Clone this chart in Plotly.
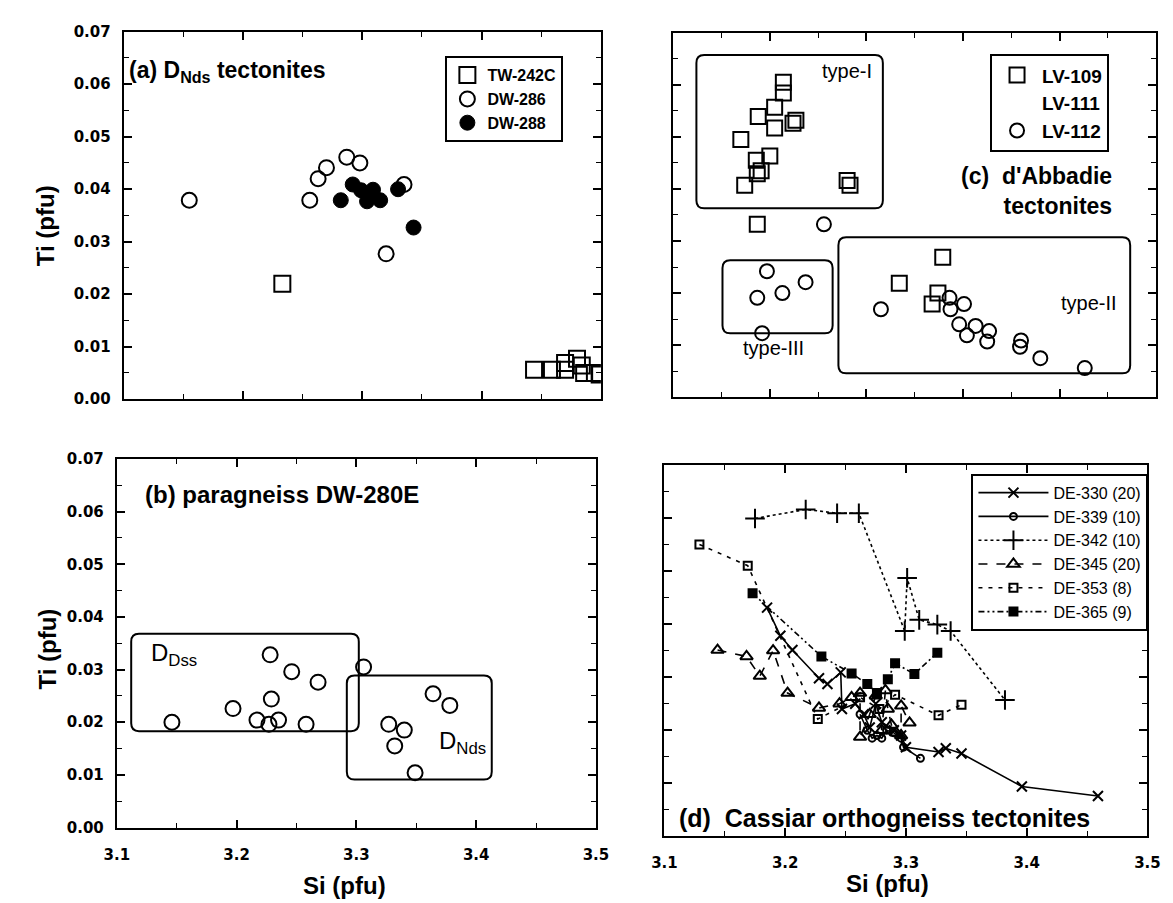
import plotly.graph_objects as go

W, H = 1173, 903

# ---------------- Panel (a): D_Nds tectonites ----------------
a_tw242c_si = [3.233, 3.444, 3.459, 3.470, 3.470, 3.480, 3.484, 3.486, 3.495, 3.499]
a_tw242c_ti = [0.0220, 0.0056, 0.0056, 0.0056, 0.0069, 0.0077, 0.0064, 0.0050, 0.0050, 0.0047]
a_dw286_si = [3.155, 3.256, 3.263, 3.270, 3.287, 3.298, 3.335, 3.320]
a_dw286_ti = [0.0379, 0.0379, 0.0420, 0.0441, 0.0461, 0.0450, 0.0409, 0.0277]
a_dw288_si = [3.282, 3.292, 3.299, 3.305, 3.309, 3.315, 3.304, 3.330, 3.343]
a_dw288_ti = [0.0379, 0.0409, 0.0398, 0.0386, 0.0399, 0.0379, 0.0377, 0.0400, 0.0327]

# ---------------- Panel (b): paragneiss DW-280E ----------------
b_si = [3.146, 3.197, 3.217, 3.227, 3.235, 3.229, 3.228, 3.246, 3.258, 3.268,
        3.306, 3.327, 3.340, 3.332, 3.349, 3.364, 3.378]
b_ti = [0.0200, 0.0226, 0.0204, 0.0196, 0.0204, 0.0244, 0.0328, 0.0296, 0.0196, 0.0276,
        0.0305, 0.0196, 0.0185, 0.0155, 0.0104, 0.0254, 0.0232]
b_box_dss = [3.112, 3.302, 0.0183, 0.0368]
b_box_nds = [3.292, 3.413, 0.0091, 0.0289]

# ---------------- Panel (c): d'Abbadie tectonites ----------------
c_lv109_si = [3.114, 3.114, 3.105, 3.088, 3.127, 3.124, 3.105, 3.070, 3.100, 3.086,
              3.091, 3.087, 3.074, 3.180, 3.183, 3.087, 3.279, 3.234, 3.274, 3.268]
c_lv109_ti = [0.0605, 0.0584, 0.0557, 0.0539, 0.0532, 0.0526, 0.0517, 0.0495, 0.0463, 0.0455,
              0.0435, 0.0429, 0.0407, 0.0416, 0.0407, 0.0332, 0.0269, 0.0219, 0.0200, 0.0179]
c_lv112_si = [3.156, 3.097, 3.137, 3.113, 3.087, 3.092, 3.215, 3.286, 3.301, 3.287,
              3.296, 3.313, 3.327, 3.304, 3.325, 3.360, 3.359, 3.380, 3.426]
c_lv112_ti = [0.0332, 0.0242, 0.0221, 0.0200, 0.0191, 0.0123, 0.0169, 0.0191, 0.0179, 0.0169,
              0.0140, 0.0137, 0.0127, 0.0119, 0.0107, 0.0109, 0.0097, 0.0075, 0.0056]
c_box_type1 = [3.024, 3.217, 0.0363, 0.0657]
c_box_type3 = [3.051, 3.165, 0.0123, 0.0263]
c_box_type2 = [3.171, 3.473, 0.0046, 0.0307]

# ---------------- Panel (d): Cassiar orthogneiss tectonites ----------------
d330_si = [3.185, 3.196, 3.206, 3.228, 3.235, 3.246, 3.247, 3.258, 3.265, 3.270,
           3.275, 3.280, 3.290, 3.296, 3.300, 3.327, 3.333, 3.346, 3.396, 3.459]
d330_ti = [0.0431, 0.0378, 0.0351, 0.0298, 0.0287, 0.0309, 0.0240, 0.0250, 0.0230, 0.0205,
           0.0250, 0.0215, 0.0200, 0.0190, 0.0168, 0.0159, 0.0166, 0.0156, 0.0094, 0.0076]
d339_si = [3.262, 3.268, 3.272, 3.276, 3.280, 3.284, 3.290, 3.296, 3.298, 3.312]
d339_ti = [0.0230, 0.0200, 0.0185, 0.0190, 0.0185, 0.0200, 0.0195, 0.0185, 0.0168, 0.0147]
d342_si = [3.175, 3.217, 3.243, 3.261, 3.299, 3.301, 3.311, 3.326, 3.337, 3.382]
d342_ti = [0.0599, 0.0616, 0.0609, 0.0609, 0.0387, 0.0487, 0.0408, 0.0399, 0.0387, 0.0257]
d345_si = [3.144, 3.168, 3.179, 3.190, 3.202, 3.228, 3.245, 3.255, 3.262, 3.262,
           3.270, 3.275, 3.280, 3.283, 3.285, 3.288, 3.292, 3.296, 3.296, 3.303]
d345_ti = [0.0351, 0.0339, 0.0302, 0.0350, 0.0270, 0.0242, 0.0250, 0.0262, 0.0270, 0.0187,
           0.0230, 0.0265, 0.0200, 0.0275, 0.0240, 0.0210, 0.0195, 0.0190, 0.0246, 0.0214]
d353_si = [3.129, 3.169, 3.227, 3.262, 3.278, 3.291, 3.327, 3.346]
d353_ti = [0.0550, 0.0510, 0.0221, 0.0262, 0.0240, 0.0267, 0.0228, 0.0248]
d365_si = [3.173, 3.230, 3.255, 3.268, 3.276, 3.285, 3.291, 3.307, 3.326]
d365_ti = [0.0458, 0.0339, 0.0307, 0.0287, 0.0270, 0.0296, 0.0326, 0.0306, 0.0346]

FONT = "Liberation Sans"
TICKFONT = dict(family="DejaVu Sans", size=15, color="black", weight="bold")


def px(x):
    return x / W


def py(y):
    return 1 - y / H


fig = go.Figure()

# ---- panel (a) traces
fig.add_trace(go.Scatter(x=a_tw242c_si, y=a_tw242c_ti, mode="markers", name="TW-242C",
                         xaxis="x", yaxis="y", legend="legend",
                         marker=dict(symbol="square-open", size=16, color="black",
                                     line=dict(width=2, color="black"))))
fig.add_trace(go.Scatter(x=a_dw286_si, y=a_dw286_ti, mode="markers", name="DW-286",
                         xaxis="x", yaxis="y", legend="legend",
                         marker=dict(symbol="circle-open", size=15, color="black",
                                     line=dict(width=2, color="black"))))
fig.add_trace(go.Scatter(x=a_dw288_si, y=a_dw288_ti, mode="markers", name="DW-288",
                         xaxis="x", yaxis="y", legend="legend",
                         marker=dict(symbol="circle", size=15, color="black",
                                     line=dict(width=1, color="black"))))

# ---- panel (b)
fig.add_trace(go.Scatter(x=b_si, y=b_ti, mode="markers", name="DW-280E", showlegend=False,
                         xaxis="x2", yaxis="y2",
                         marker=dict(symbol="circle-open", size=15, color="black",
                                     line=dict(width=2, color="black"))))

# ---- panel (c)
fig.add_trace(go.Scatter(x=c_lv109_si, y=c_lv109_ti, mode="markers", name="LV-109",
                         xaxis="x3", yaxis="y3", legend="legend2",
                         marker=dict(symbol="square-open", size=15, color="black",
                                     line=dict(width=2, color="black"))))
fig.add_trace(go.Scatter(x=[None], y=[None], mode="markers", name="LV-111",
                         xaxis="x3", yaxis="y3", legend="legend2",
                         marker=dict(symbol="circle", size=1, color="rgba(0,0,0,0)",
                                     line=dict(width=0))))
fig.add_trace(go.Scatter(x=c_lv112_si, y=c_lv112_ti, mode="markers", name="LV-112",
                         xaxis="x3", yaxis="y3", legend="legend2",
                         marker=dict(symbol="circle-open", size=14, color="black",
                                     line=dict(width=2, color="black"))))

# ---- panel (d)
d_series = [
    ("DE-330 (20)", d330_si, d330_ti, "solid", "x-thin", 10, "black"),
    ("DE-339 (10)", d339_si, d339_ti, "solid", "circle-open", 7, "black"),
    ("DE-342 (10)", d342_si, d342_ti, "dot", "cross-thin", 14, "black"),
    ("DE-345 (20)", d345_si, d345_ti, "dash", "triangle-up-open", 11, "black"),
    ("DE-353 (8)", d353_si, d353_ti, "4px,6px", "square-open", 8, "black"),
    ("DE-365 (9)", d365_si, d365_ti, "6px,3px,2px,3px,2px,3px", "square", 8, "black"),
]
for name, xs, ys, dash, sym, size, col in d_series:
    fig.add_trace(go.Scatter(x=xs, y=ys, mode="lines+markers", name=name,
                             xaxis="x4", yaxis="y4", legend="legend3",
                             line=dict(color="black", width=1.6, dash=dash),
                             marker=dict(symbol=sym, size=size, color=col,
                                         line=dict(width=2, color="black"))))


def axis_common():
    return dict(showline=True, linewidth=2, linecolor="black", mirror="ticks",
                ticks="inside", ticklen=8, tickwidth=1.5, tickcolor="black",
                showgrid=False, zeroline=False, tickfont=TICKFONT)


def xaxis(domain, anchor, rng, dtick, minor, labels):
    d = axis_common()
    d.update(domain=domain, anchor=anchor, range=rng, dtick=dtick, tick0=3.0,
             tickformat=".1f", showticklabels=labels, ticklabelstandoff=12,
             minor=dict(dtick=minor, ticks="inside", ticklen=5, tickcolor="black",
                        tickwidth=1.2, showgrid=False))
    return d


def yaxis(domain, anchor, labels):
    d = axis_common()
    d.update(domain=domain, anchor=anchor, range=[0, 0.07], dtick=0.01, tick0=0,
             tickformat=".2f", showticklabels=labels, ticklabelstandoff=8,
             minor=dict(dtick=0.005, ticks="inside", ticklen=5, tickcolor="black",
                        tickwidth=1.2, showgrid=False))
    return d


layout = dict(
    width=W, height=H, margin=dict(l=0, r=0, t=0, b=0),
    paper_bgcolor="white", plot_bgcolor="white",
    font=dict(family=FONT, color="black"),
    xaxis=xaxis([px(105), px(593)], "y", [3.1, 3.5], 0.1, 0.05, False),
    yaxis=yaxis([py(390), py(15)], "x", True),
    xaxis2=xaxis([px(98), px(588)], "y2", [3.1, 3.5], 0.1, 0.05, True),
    yaxis2=yaxis([py(827), py(451)], "x2", True),
    xaxis3=xaxis([px(667), px(1161)], "y3", [3.0, 3.5], 0.1, 0.05, False),
    yaxis3=yaxis([py(388), py(16)], "x3", False),
    xaxis4=xaxis([px(658), px(1152)], "y4", [3.1, 3.5], 0.1, 0.05, True),
    yaxis4=yaxis([py(836), py(457)], "x4", False),
    legend=dict(x=px(434), y=py(40), xanchor="left", yanchor="top",
                bordercolor="black", borderwidth=2, bgcolor="white",
                font=dict(family=FONT, size=16, weight="bold"), itemwidth=30,
                tracegroupgap=0),
    legend2=dict(x=px(991), y=py(38), xanchor="left", yanchor="top",
                 bordercolor="black", borderwidth=2, bgcolor="white",
                 font=dict(family=FONT, size=19, weight="bold"), itemwidth=40),
    legend3=dict(x=px(972), y=py(466), xanchor="left", yanchor="top",
                 bordercolor="black", borderwidth=2, bgcolor="white",
                 font=dict(family=FONT, size=16), itemwidth=70),
)
fig.update_layout(**layout)


def rounded(box, xref, yref, rx, ry):
    x0, x1, y0, y1 = box
    path = (f"M {x0+rx},{y0} L {x1-rx},{y0} Q {x1},{y0} {x1},{y0+ry} "
            f"L {x1},{y1-ry} Q {x1},{y1} {x1-rx},{y1} L {x0+rx},{y1} "
            f"Q {x0},{y1} {x0},{y1-ry} L {x0},{y0+ry} Q {x0},{y0} {x0+rx},{y0} Z")
    return dict(type="path", path=path, xref=xref, yref=yref,
                line=dict(color="black", width=2), layer="below")


shapes = [
    rounded(b_box_dss, "x2", "y2", 0.0065, 0.0015),
    rounded(b_box_nds, "x2", "y2", 0.0065, 0.0015),
    rounded(c_box_type1, "x3", "y3", 0.008, 0.0015),
    rounded(c_box_type3, "x3", "y3", 0.008, 0.0015),
    rounded(c_box_type2, "x3", "y3", 0.008, 0.0015),
]
fig.update_layout(shapes=shapes)


def ann(text, x, y, size, bold=True, xanchor="left", yanchor="middle", angle=0, align="left"):
    return dict(text=text, x=px(x), y=py(y), xref="paper", yref="paper",
                xanchor=xanchor, yanchor=yanchor, showarrow=False, textangle=angle,
                align=align,
                font=dict(family=FONT, size=size, color="black",
                          weight="bold" if bold else "normal"))


annotations = [
    ann("(a) D<sub>Nds</sub> tectonites", 108, 56, 23),
    ann("(b) paragneiss DW-280E", 125, 487, 24),
    ann("(c)&nbsp;&nbsp;d'Abbadie<br>tectonites", 1118, 178, 23, xanchor="right", align="right"),
    ann("(d)&nbsp;&nbsp;Cassiar orthogneiss tectonites", 671, 817, 25),
    ann("D<sub>Dss</sub>", 131, 650, 24, bold=False),
    ann("D<sub>Nds</sub>", 425, 740, 24, bold=False),
    ann("type-I", 872, 55, 20, bold=False, xanchor="right"),
    ann("type-III", 770, 338, 20, bold=False, xanchor="center"),
    ann("type-II", 1092, 292, 20, bold=False, xanchor="center"),
    ann("Ti (pfu)", 25, 213, 24, xanchor="center", angle=-90),
    ann("Ti (pfu)", 27, 645, 24, xanchor="center", angle=-90),
    ann("Si (pfu)", 331, 886, 24, xanchor="center"),
    ann("Si (pfu)", 886, 884, 24, xanchor="center"),
]
fig.update_layout(annotations=annotations)

fig.write_html("out.html")
